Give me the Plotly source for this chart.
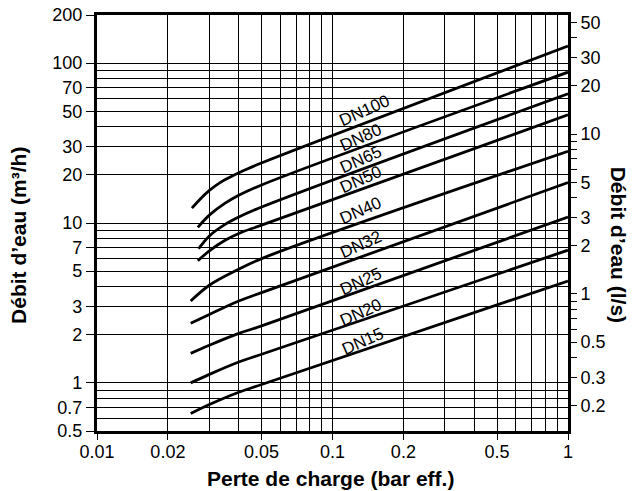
import math
import plotly.graph_objects as go

FONT = "Liberation Sans, Arial, Helvetica, sans-serif"

# ---- data: pressure drop (bar) -> flow (m3/h) ----
dn100_dp = [0.0253, 0.0274, 0.0302, 0.0333, 0.0368, 0.0413, 0.0502, 1.0]
dn100_q = [12.4, 14.1, 16.1, 17.9, 19.4, 21.1, 23.8, 127.8]
dn80_dp = [0.0268, 0.03, 0.035, 0.04, 0.05, 1.0]
dn80_q = [9.4, 11.2, 13.3, 14.9, 17.3, 87.8]
dn65_dp = [0.027, 0.03, 0.035, 0.04, 0.05, 1.0]
dn65_q = [6.9, 8.3, 9.8, 10.9, 12.6, 64.3]
dn50_dp = [0.0268, 0.03, 0.035, 0.04, 0.05, 1.0]
dn50_q = [5.8, 6.7, 7.8, 8.6, 9.7, 47.5]
dn40_dp = [0.025, 0.03, 0.04, 0.05, 1.0]
dn40_q = [3.25, 4.08, 5.14, 5.99, 28.1]
dn32_dp = [0.025, 0.03, 0.04, 0.05, 1.0]
dn32_q = [2.36, 2.68, 3.25, 3.67, 17.9]
dn25_dp = [0.025, 0.03, 0.04, 0.05, 1.0]
dn25_q = [1.53, 1.72, 2.04, 2.27, 10.9]
dn20_dp = [0.025, 0.03, 0.04, 0.05, 1.0]
dn20_q = [1.0, 1.13, 1.35, 1.51, 6.76]
dn15_dp = [0.025, 0.03, 0.04, 0.05, 1.0]
dn15_q = [0.643, 0.732, 0.874, 0.977, 4.34]

series_names = ["DN100", "DN80", "DN65", "DN50", "DN40", "DN32", "DN25", "DN20", "DN15"]
series_dp = [dn100_dp, dn80_dp, dn65_dp, dn50_dp, dn40_dp, dn32_dp, dn25_dp, dn20_dp, dn15_dp]
series_q = [dn100_q, dn80_q, dn65_q, dn50_q, dn40_q, dn32_q, dn25_q, dn20_q, dn15_q]

# tick labels
x_ticks = [0.01, 0.02, 0.05, 0.1, 0.2, 0.5, 1]
x_ticktext = ["0.01", "0.02", "0.05", "0.1", "0.2", "0.5", "1"]
x_minor = [0.03, 0.04, 0.06, 0.07, 0.08, 0.09, 0.3, 0.4, 0.6, 0.7, 0.8, 0.9]
y_ticks = [0.5, 0.7, 1, 2, 3, 5, 7, 10, 20, 30, 50, 70, 100, 200]
y_ticktext = ["0.5", "0.7", "1", "2", "3", "5", "7", "10", "20", "30", "50", "70", "100", "200"]
y_minor = [0.6, 0.8, 0.9, 4, 6, 8, 9, 40, 60, 80, 90]
y2_ticks = [0.2, 0.3, 0.5, 1, 2, 3, 5, 10, 20, 30, 50]
y2_ticktext = ["0.2", "0.3", "0.5", "1", "2", "3", "5", "10", "20", "30", "50"]
y2_minor = [0.4, 0.6, 0.7, 0.8, 0.9, 4, 6, 7, 8, 9, 40]

# label anchor positions (data units) for the DN tags
label_dp = [0.137, 0.132, 0.132, 0.132, 0.132, 0.132, 0.132, 0.132, 0.134]
label_q = [50.5, 34.3, 25.1, 18.8, 11.9, 7.35, 4.33, 2.77, 1.82]

Y_MIN, Y_MAX = 0.5, 200
M3H_PER_LS = 3.6
LABEL_ANGLE = 24          # degrees, text rises to the right
LABEL_SIZE = 17

fig = go.Figure()
for name, dp, q in zip(series_names, series_dp, series_q):
    fig.add_trace(go.Scatter(
        x=dp, y=q, mode="lines", name=name,
        line=dict(color="black", width=2.8, shape="spline", smoothing=1.0),
        showlegend=False, hoverinfo="skip",
    ))

# same DN100 curve expressed in l/s on the secondary axis (invisible; keeps the l/s axis alive)
fig.add_trace(go.Scatter(
    x=dn100_dp, y=[v / M3H_PER_LS for v in dn100_q], yaxis="y2",
    mode="lines", line=dict(color="rgba(0,0,0,0)", width=0.1),
    opacity=0, showlegend=False, hoverinfo="skip",
))

# DN tags: white mask between gridlines and curves, then the rotated text
th = math.radians(LABEL_ANGLE)
for name, lx, ly in zip(series_names, label_dp, label_q):
    hw = 0.31 * LABEL_SIZE * len(name) + 2
    hh = 8.5
    pts = []
    for u, v in [(-hw, -hh), (hw, -hh), (hw, hh), (-hw, hh)]:
        pts.append((u * math.cos(th) - v * math.sin(th), u * math.sin(th) + v * math.cos(th)))
    path = "M " + " L ".join(f"{px:.2f},{py:.2f}" for px, py in pts) + " Z"
    fig.add_shape(
        type="path", path=path, xref="x", yref="y",
        xsizemode="pixel", ysizemode="pixel",
        xanchor=math.log10(lx), yanchor=math.log10(ly),
        fillcolor="white", line=dict(width=0), layer="between",
    )
    fig.add_annotation(
        x=math.log10(lx), y=math.log10(ly), xref="x", yref="y",
        text=name, showarrow=False, textangle=-LABEL_ANGLE,
        font=dict(family=FONT, size=LABEL_SIZE, color="black"),
    )

tickfont = dict(family=FONT, size=18, color="black")
grid = dict(showgrid=True, gridcolor="black", gridwidth=1.3)

# the page body adds an 8 px offset; margins compensate for it
fig.update_layout(
    width=637, height=491,
    margin=dict(l=89, r=77, t=7, b=68, autoexpand=False),
    paper_bgcolor="white", plot_bgcolor="white",
    showlegend=False,
    xaxis=dict(
        type="log", range=[math.log10(0.01), math.log10(1)], automargin=False,
        tickmode="array", tickvals=x_ticks, ticktext=x_ticktext,
        ticks="outside", ticklen=6, tickwidth=1.3, tickcolor="black",
        ticklabelstandoff=-4, ticklabeloverflow="allow",
        tickfont=tickfont, **grid,
        minor=dict(tickmode="array", tickvals=x_minor, ticks="", **grid),
        showline=True, linewidth=3.2, linecolor="black", mirror=True,
        zeroline=False,
    ),
    yaxis=dict(
        type="log", range=[math.log10(Y_MIN), math.log10(Y_MAX)], automargin=False,
        tickmode="array", tickvals=y_ticks, ticktext=y_ticktext,
        ticks="outside", ticklen=8, tickwidth=1.3, tickcolor="black",
        ticklabeloverflow="allow",
        tickfont=tickfont, **grid,
        minor=dict(tickmode="array", tickvals=y_minor, ticks="", **grid),
        showline=True, linewidth=3.2, linecolor="black", mirror=True,
        zeroline=False,
    ),
    yaxis2=dict(
        type="log", overlaying="y", side="right", automargin=False,
        range=[math.log10(Y_MIN / M3H_PER_LS), math.log10(Y_MAX / M3H_PER_LS)],
        tickmode="array", tickvals=y2_ticks, ticktext=y2_ticktext,
        ticks="outside", ticklen=8, tickwidth=1.3, tickcolor="black",
        ticklabeloverflow="allow",
        tickfont=tickfont, showgrid=False, zeroline=False, showline=False,
        minor=dict(tickmode="array", tickvals=y2_minor, ticks="outside",
                   ticklen=8, tickwidth=1.3, tickcolor="black", showgrid=False),
    ),
)

titlefont = dict(family=FONT, size=21, color="black")
fig.add_annotation(text="<b>Perte de charge (bar eff.)</b>", xref="paper", yref="paper",
                   x=0.4947, y=-0.113, showarrow=False, font=titlefont,
                   xanchor="center", yanchor="middle")
fig.add_annotation(text="<b>Débit d’eau (m³/h)</b>", xref="paper", yref="paper",
                   x=-0.1656, y=0.469, showarrow=False, font=titlefont, textangle=-90,
                   xanchor="center", yanchor="middle")
fig.add_annotation(text="<b>Débit d’eau (l/s)</b>", xref="paper", yref="paper",
                   x=1.109, y=0.447, showarrow=False, font=titlefont, textangle=90,
                   xanchor="center", yanchor="middle")

fig.write_html("out.html")
